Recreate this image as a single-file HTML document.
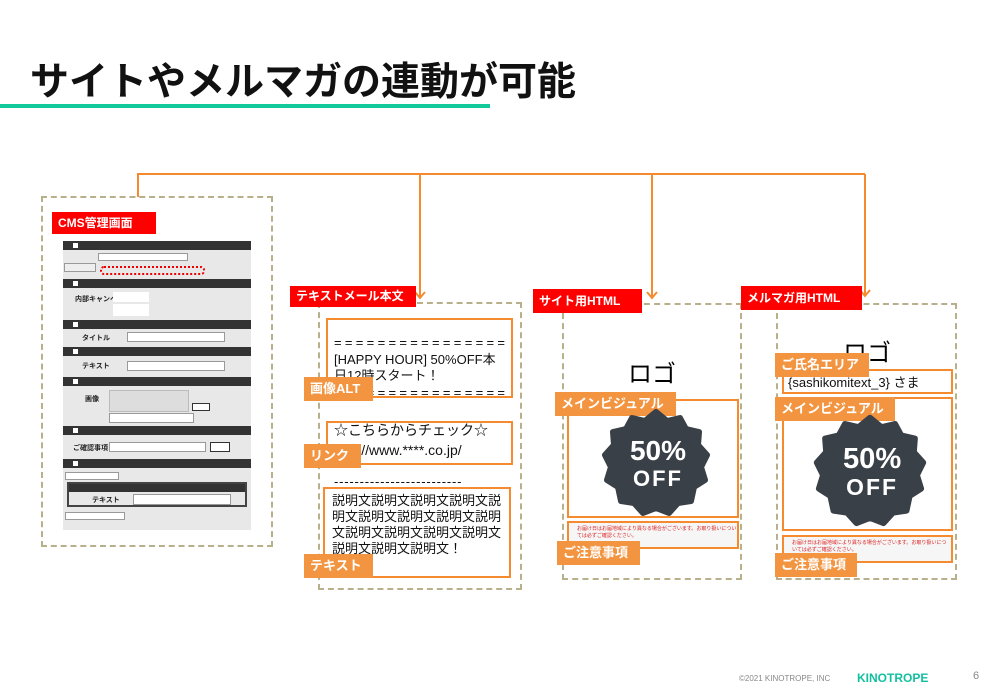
<!DOCTYPE html>
<html><head><meta charset="utf-8"><style>
*{margin:0;padding:0;box-sizing:border-box}
body{width:1000px;height:692px;background:#fff;position:relative;overflow:hidden;font-family:"Liberation Sans","Noto Sans CJK JP",sans-serif}
.a{position:absolute}
.dash{position:absolute;border:2px dashed #b8b08a}
.red{position:absolute;background:#f00;color:#fff;font-weight:bold;font-size:12px;line-height:22px;padding-left:6px;white-space:nowrap}
.ob{position:absolute;border:2px solid #f58a2e}
.ol{position:absolute;background:#f39440;color:#fff;font-weight:bold;font-size:13px;line-height:24px;padding-left:6px;white-space:nowrap}
.t{position:absolute;font-size:13px;color:#111;line-height:16px;white-space:nowrap}
.eq{letter-spacing:3.3px}
.bar{position:absolute;left:63px;width:188px;background:#333;height:9px}
.bar:before{content:"";position:absolute;left:10px;top:2px;width:5px;height:5px;background:#fff}
.inp{position:absolute;background:#fff;border:1px solid #999}
.lb{position:absolute;font-size:7px;font-weight:bold;color:#222}
.note{position:absolute;background:#f6f6f6;border:1px solid #ddd;font-size:5px;color:#d22;padding:3px 0 0 8px;line-height:7px}
</style></head><body>
<div class="a" style="left:30px;top:51px;font-size:39px;font-weight:bold;color:#111;letter-spacing:0px">サイトやメルマガの連動が可能</div>
<div class="a" style="left:0;top:104px;width:490px;height:4px;background:#12c999"></div>

<svg class="a" style="left:0;top:0" width="1000" height="692">
<g stroke="#f58a2e" stroke-width="2" fill="none">
<polyline points="138,197 138,174 865,174"/>
<line x1="420" y1="174" x2="420" y2="298"/><polyline points="415,292 420,298 425,292"/>
<line x1="652" y1="174" x2="652" y2="298"/><polyline points="647,292 652,298 657,292"/>
<line x1="865" y1="174" x2="865" y2="296"/><polyline points="860,290 865,296 870,290"/>
</g>
</svg>

<!-- CMS -->
<div class="dash" style="left:41px;top:196px;width:232px;height:351px"></div>
<div class="red" style="left:52px;top:212px;width:104px">CMS管理画面</div>
<div class="a" style="left:63px;top:241px;width:188px;height:289px;background:#e8e8e8"></div>
<div class="bar" style="top:241px"></div>
<div class="inp" style="left:98px;top:253px;width:90px;height:8px"></div>
<div class="inp" style="left:64px;top:263px;width:32px;height:9px;background:#eee"></div>
<div class="a" style="left:100px;top:266px;width:105px;height:9px;border:2px dotted #e00;border-radius:4px"></div>
<div class="bar" style="top:279px"></div>
<div class="lb" style="left:75px;top:294px">内部キャンペーン</div>
<div class="inp" style="left:113px;top:292px;width:36px;height:10px;border:none"></div>
<div class="inp" style="left:113px;top:304px;width:36px;height:12px;border:none"></div>
<div class="bar" style="top:320px"></div>
<div class="lb" style="left:82px;top:333px">タイトル</div>
<div class="inp" style="left:127px;top:332px;width:98px;height:10px"></div>
<div class="bar" style="top:347px"></div>
<div class="lb" style="left:82px;top:361px">テキスト</div>
<div class="inp" style="left:127px;top:361px;width:98px;height:10px"></div>
<div class="bar" style="top:377px"></div>
<div class="lb" style="left:85px;top:394px">画像</div>
<div class="a" style="left:109px;top:390px;width:80px;height:22px;background:#ddd;border:1px solid #bbb"></div>
<div class="inp" style="left:192px;top:403px;width:18px;height:8px;border:1px solid #333"></div>
<div class="inp" style="left:109px;top:413px;width:85px;height:10px"></div>
<div class="bar" style="top:426px"></div>
<div class="lb" style="left:73px;top:443px">ご確認事項</div>
<div class="inp" style="left:109px;top:442px;width:97px;height:10px"></div>
<div class="inp" style="left:210px;top:442px;width:20px;height:10px;border:1px solid #333"></div>
<div class="bar" style="top:459px"></div>
<div class="inp" style="left:65px;top:472px;width:54px;height:8px"></div>
<div class="a" style="left:67px;top:482px;width:180px;height:25px;border:2px solid #444;background:#e8e8e8"></div>
<div class="a" style="left:69px;top:484px;width:176px;height:8px;background:#333"></div>
<div class="lb" style="left:92px;top:495px">テキスト</div>
<div class="inp" style="left:133px;top:494px;width:98px;height:11px"></div>
<div class="inp" style="left:65px;top:512px;width:60px;height:8px"></div>

<!-- text mail -->
<div class="dash" style="left:318px;top:302px;width:204px;height:288px"></div>
<div class="red" style="left:290px;top:286px;width:126px;line-height:21px">テキストメール本文</div>
<div class="ob" style="left:326px;top:318px;width:187px;height:80px"></div>
<div class="t eq" style="left:334px;top:335px">================</div>
<div class="t" style="left:334px;top:352px">[HAPPY HOUR] 50%OFF本</div>
<div class="t" style="left:334px;top:368px">日12時スタート！</div>
<div class="t eq" style="left:334px;top:385px">================</div>
<div class="ob" style="left:326px;top:421px;width:187px;height:44px"></div>
<div class="t" style="left:334px;top:422px;font-size:14px">☆こちらからチェック☆</div>
<div class="t" style="left:334px;top:442px;font-size:14px">http://www.****.co.jp/</div>
<div class="t" style="left:334px;top:474px;letter-spacing:0.8px">-------------------------</div>
<div class="ob" style="left:323px;top:487px;width:188px;height:91px"></div>
<div class="t" style="left:332px;top:493px;font-size:13px;line-height:16px;white-space:normal;width:172px;word-break:break-all">説明文説明文説明文説明文説明文説明文説明文説明文説明文説明文説明文説明文説明文説明文説明文説明文！</div>
<div class="ol" style="left:304px;top:377px;width:69px">画像ALT</div>
<div class="ol" style="left:304px;top:444px;width:57px">リンク</div>
<div class="ol" style="left:304px;top:554px;width:69px">テキスト</div>

<!-- site html -->
<div class="dash" style="left:562px;top:303px;width:180px;height:277px"></div>
<div class="red" style="left:533px;top:289px;width:109px;line-height:24px">サイト用HTML</div>
<div class="a" style="left:628px;top:360px;font-size:24px;line-height:30px">ロゴ</div>
<div class="ob" style="left:567px;top:399px;width:172px;height:119px"></div>
<div class="note" style="left:567px;top:521px;width:172px;height:28px;border:2px solid #f58a2e">お届け日はお届地域により異なる場合がございます。お取り扱いについては必ずご確認ください。</div>
<div class="ol" style="left:555px;top:392px;width:121px">メインビジュアル</div>
<div class="ol" style="left:557px;top:541px;width:83px">ご注意事項</div>

<!-- mailmag -->
<div class="dash" style="left:776px;top:303px;width:181px;height:277px"></div>
<div class="red" style="left:741px;top:286px;width:121px;line-height:24px">メルマガ用HTML</div>
<div class="a" style="left:843px;top:339px;font-size:24px;line-height:30px">ロゴ</div>
<div class="ob" style="left:782px;top:369px;width:171px;height:25px;background:#fff"></div>
<div class="t" style="left:788px;top:375px">{sashikomitext_3} さま</div>
<div class="ob" style="left:782px;top:397px;width:171px;height:134px"></div>
<div class="note" style="left:782px;top:535px;width:171px;height:28px;border:2px solid #f58a2e">お届け日はお届地域により異なる場合がございます。お取り扱いについては必ずご確認ください。</div>
<div class="ol" style="left:775px;top:353px;width:94px">ご氏名エリア</div>
<div class="ol" style="left:775px;top:397px;width:120px">メインビジュアル</div>
<div class="ol" style="left:775px;top:553px;width:82px">ご注意事項</div>

<svg class="a" style="left:0;top:0" width="1000" height="692">
<defs>
<polygon id="st" fill="#3a4047" stroke="#3a4047" stroke-width="6" stroke-linejoin="round" points="0,-52 11,-43 24,-46 30,-35 43,-32 42,-19 51,-9 45,3 49,16 38,23 35,37 22,39 13,49 0,44 -13,49 -22,39 -35,37 -38,23 -49,16 -45,3 -51,-9 -42,-19 -43,-32 -30,-35 -24,-46 -11,-43"/>
</defs>
<g transform="translate(656,464)"><use href="#st"/>
<text x="2" y="-4" text-anchor="middle" fill="#fff" font-family="Liberation Sans" font-weight="bold" font-size="28">50%</text>
<text x="2" y="22" text-anchor="middle" fill="#fff" font-family="Liberation Sans" font-weight="bold" font-size="22" letter-spacing="2">OFF</text></g>
<g transform="translate(870,472) scale(1.04)"><use href="#st"/>
<text x="2" y="-4" text-anchor="middle" fill="#fff" font-family="Liberation Sans" font-weight="bold" font-size="28">50%</text>
<text x="2" y="22" text-anchor="middle" fill="#fff" font-family="Liberation Sans" font-weight="bold" font-size="22" letter-spacing="2">OFF</text></g>
</svg>

<div class="a" style="left:739px;top:674px;font-size:8px;color:#888">©2021 KINOTROPE, INC</div>
<div class="a" style="left:857px;top:671px;font-size:12px;font-weight:bold;color:#12c0a0">KINOTROPE</div>
<div class="a" style="left:973px;top:670px;font-size:11px;color:#888">6</div>
</body></html>
